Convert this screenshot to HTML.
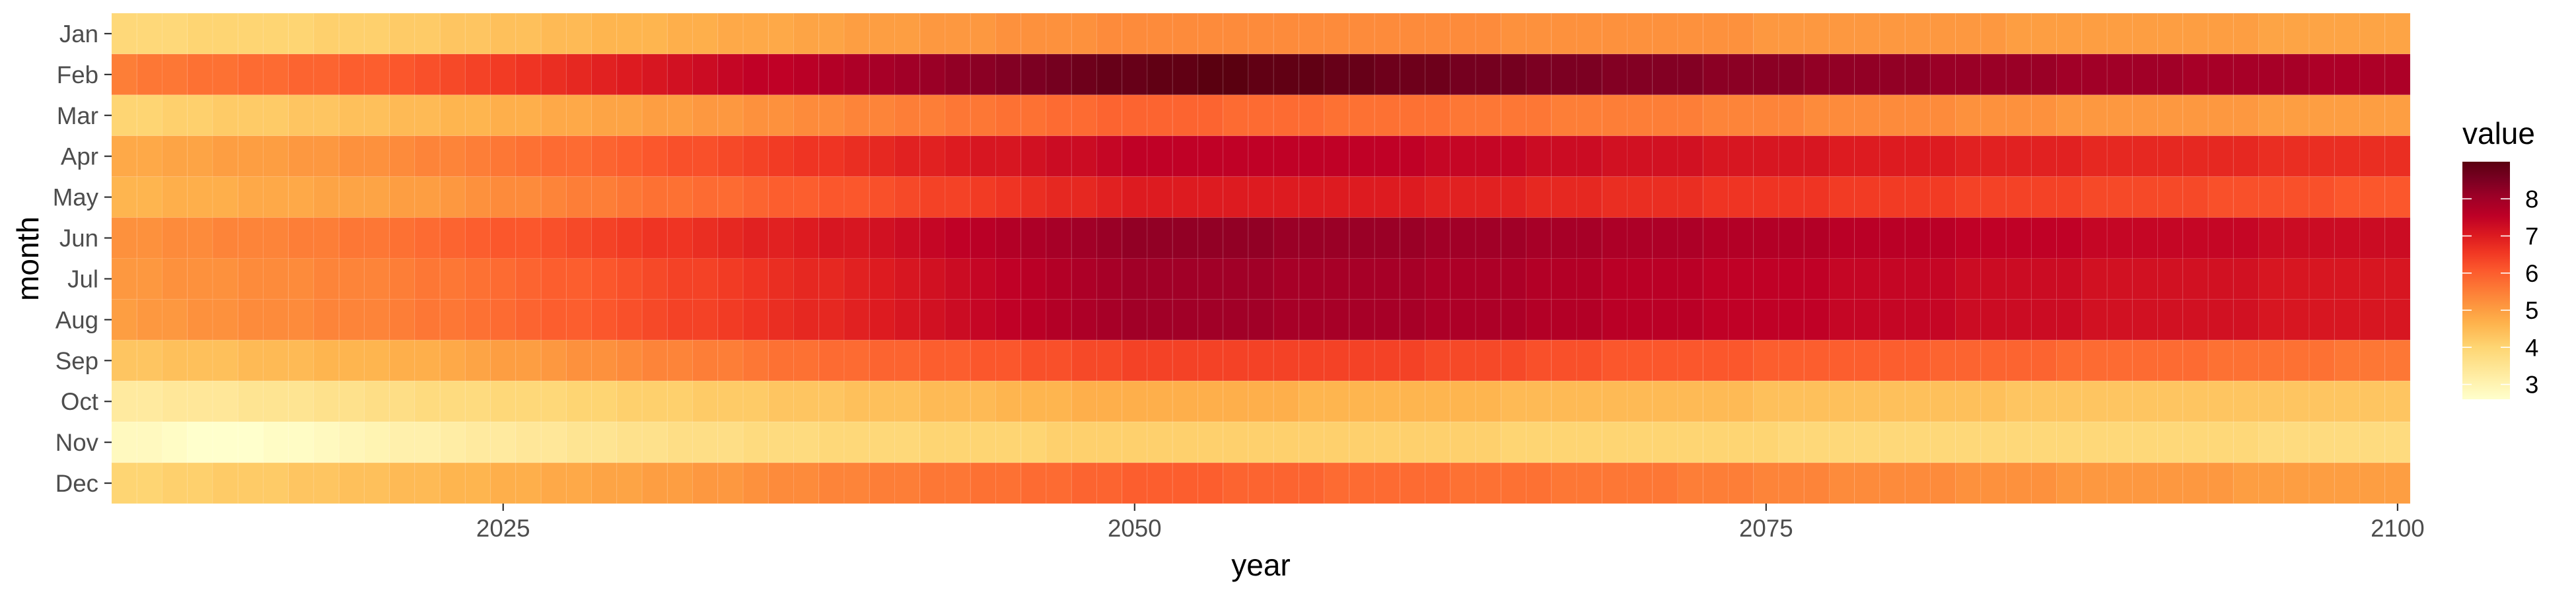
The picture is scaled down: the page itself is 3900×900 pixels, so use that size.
<!DOCTYPE html>
<html><head><meta charset="utf-8"><style>
html,body{margin:0;padding:0;background:#fff;}
svg{display:block;font-family:"Liberation Sans",Arial,sans-serif;}
</style></head><body>
<svg id="chart" width="3900" height="900" viewBox="0 0 3900 900" xmlns="http://www.w3.org/2000/svg">
<defs>
<linearGradient id="lg" x1="0" y1="1" x2="0" y2="0"></linearGradient>
</defs>
<g id="tiles"></g>
<g id="yaxis"></g>
<g id="xaxis"></g>
<text x="0" y="0" transform="translate(58,392) rotate(-90)" text-anchor="middle" font-size="46" fill="#000">month</text>
<text x="1909" y="872" text-anchor="middle" font-size="46" fill="#000">year</text>
<g id="legend">
<text x="3728" y="218" font-size="46" fill="#000">value</text>
<rect x="3728" y="245" width="72" height="360" fill="url(#lg)"></rect>
</g>
</svg>
<script>
const months = ["Jan","Feb","Mar","Apr","May","Jun","Jul","Aug","Sep","Oct","Nov","Dec"];
const yearStart = 2010;
const xTicks = [2025, 2050, 2075, 2100];
const legendTicks = [3, 4, 5, 6, 7, 8];
const jan = [3.9,3.9,3.9,4.0,4.0,4.0,4.0,4.0,4.1,4.1, 4.1,4.2,4.2,4.3,4.3,4.4,4.4,4.5,4.5,4.6, 4.6,4.6,4.7,4.7,4.8,4.8,4.8,4.9,4.9,5.0, 5.0,5.0,5.1,5.1,5.1,5.2,5.2,5.2,5.2,5.3, 5.3,5.3,5.3,5.3,5.3,5.3,5.3,5.3,5.3,5.3, 5.3,5.3,5.3,5.3,5.3,5.2,5.2,5.2,5.2,5.2, 5.2,5.2,5.2,5.2,5.2,5.1,5.1,5.1,5.1,5.1, 5.1,5.1,5.1,5.1,5.1,5.0,5.0,5.0,5.0,5.0, 5.0,5.0,5.0,5.0,5.0,4.9,4.9,4.9,4.9,4.9, 4.9];
const feb = [5.5,5.6,5.6,5.7,5.7,5.8,5.8,5.9,5.9,6.0, 6.0,6.1,6.2,6.3,6.4,6.5,6.6,6.7,6.8,6.9, 7.0,7.1,7.2,7.3,7.4,7.5,7.5,7.6,7.7,7.8, 7.9,8.0,8.1,8.2,8.3,8.4,8.5,8.6,8.7,8.8, 8.8,8.9,8.9,9.0,9.0,8.9,8.9,8.9,8.8,8.8, 8.7,8.7,8.7,8.6,8.6,8.6,8.5,8.5,8.5,8.4, 8.4,8.4,8.4,8.3,8.3,8.3,8.3,8.2,8.2,8.2, 8.2,8.2,8.1,8.1,8.1,8.1,8.1,8.0,8.0,8.0, 8.0,8.0,7.9,7.9,7.9,7.9,7.9,7.8,7.8,7.8, 7.8];
const mar = [4.0,4.0,4.1,4.1,4.2,4.2,4.2,4.3,4.3,4.4, 4.4,4.5,4.5,4.6,4.6,4.7,4.7,4.8,4.8,4.9, 4.9,5.0,5.0,5.1,5.1,5.2,5.2,5.3,5.3,5.4, 5.4,5.5,5.5,5.6,5.6,5.7,5.7,5.8,5.8,5.9, 5.9,5.9,5.9,5.9,5.8,5.8,5.8,5.8,5.7,5.7, 5.7,5.7,5.7,5.6,5.6,5.6,5.6,5.5,5.5,5.5, 5.5,5.5,5.5,5.4,5.4,5.4,5.4,5.3,5.3,5.3, 5.3,5.3,5.3,5.2,5.2,5.2,5.2,5.1,5.1,5.1, 5.1,5.1,5.1,5.1,5.1,5.0,5.0,5.0,5.0,5.0, 5.0];
const apr = [4.8,4.8,4.9,4.9,5.0,5.0,5.0,5.1,5.1,5.2, 5.2,5.3,5.4,5.4,5.5,5.6,5.7,5.8,5.8,5.9, 6.0,6.1,6.2,6.2,6.3,6.4,6.5,6.6,6.6,6.7, 6.8,6.9,6.9,7.0,7.1,7.1,7.2,7.3,7.3,7.4, 7.5,7.5,7.5,7.5,7.5,7.5,7.5,7.5,7.5,7.5, 7.5,7.5,7.4,7.4,7.4,7.4,7.3,7.3,7.3,7.2, 7.2,7.2,7.2,7.1,7.1,7.1,7.1,7.1,7.0,7.0, 7.0,7.0,7.0,6.9,6.9,6.9,6.9,6.9,6.8,6.8, 6.8,6.8,6.8,6.8,6.8,6.7,6.7,6.7,6.7,6.7, 6.7];
const may = [4.6,4.6,4.7,4.7,4.7,4.8,4.8,4.8,4.9,4.9, 4.9,5.0,5.0,5.1,5.2,5.3,5.3,5.4,5.5,5.5, 5.6,5.7,5.7,5.8,5.8,5.9,6.0,6.0,6.1,6.1, 6.2,6.3,6.4,6.4,6.5,6.6,6.7,6.8,6.8,6.9, 7.0,7.0,7.0,7.0,7.0,7.0,7.0,7.0,7.0,7.0, 7.0,7.0,6.9,6.9,6.9,6.9,6.8,6.8,6.8,6.7, 6.7,6.7,6.7,6.6,6.6,6.6,6.6,6.6,6.5,6.5, 6.5,6.5,6.5,6.4,6.4,6.4,6.4,6.4,6.3,6.3, 6.3,6.3,6.3,6.2,6.2,6.2,6.2,6.2,6.1,6.1, 6.1];
const jun = [5.2,5.2,5.3,5.3,5.4,5.4,5.4,5.5,5.5,5.6, 5.6,5.7,5.8,5.9,6.0,6.1,6.1,6.2,6.3,6.4, 6.5,6.6,6.6,6.7,6.8,6.9,6.9,7.0,7.1,7.1, 7.2,7.3,7.4,7.5,7.6,7.7,7.8,7.9,8.0,8.1, 8.2,8.2,8.2,8.2,8.2,8.2,8.1,8.1,8.1,8.1, 8.1,8.1,8.0,8.0,8.0,8.0,7.9,7.9,7.9,7.8, 7.8,7.8,7.8,7.7,7.7,7.7,7.7,7.7,7.6,7.6, 7.6,7.6,7.6,7.5,7.5,7.5,7.5,7.5,7.4,7.4, 7.4,7.4,7.4,7.4,7.4,7.3,7.3,7.3,7.3,7.3, 7.3];
const jul = [5.1,5.1,5.2,5.2,5.2,5.3,5.3,5.3,5.4,5.4, 5.4,5.5,5.6,5.6,5.7,5.8,5.9,6.0,6.0,6.1, 6.2,6.3,6.4,6.4,6.5,6.6,6.7,6.8,6.8,6.9, 7.0,7.1,7.2,7.3,7.4,7.5,7.6,7.7,7.8,7.9, 8.0,8.0,8.0,8.0,8.0,8.0,7.9,7.9,7.9,7.9, 7.9,7.9,7.8,7.8,7.8,7.8,7.7,7.7,7.7,7.6, 7.6,7.6,7.6,7.5,7.5,7.5,7.5,7.5,7.4,7.4, 7.4,7.4,7.4,7.3,7.3,7.3,7.3,7.3,7.2,7.2, 7.2,7.2,7.2,7.2,7.2,7.1,7.1,7.1,7.1,7.1, 7.1];
const aug = [5.0,5.1,5.1,5.2,5.2,5.3,5.3,5.3,5.4,5.4, 5.4,5.5,5.6,5.6,5.7,5.8,5.9,6.0,6.0,6.1, 6.2,6.3,6.4,6.4,6.5,6.6,6.7,6.8,6.8,6.9, 7.0,7.1,7.2,7.3,7.4,7.5,7.6,7.7,7.8,7.9, 8.0,8.0,8.0,8.0,8.0,8.0,7.9,7.9,7.9,7.9, 7.9,7.9,7.8,7.8,7.8,7.8,7.7,7.7,7.7,7.6, 7.6,7.6,7.6,7.5,7.5,7.5,7.5,7.5,7.4,7.4, 7.4,7.4,7.4,7.3,7.3,7.3,7.3,7.3,7.2,7.2, 7.2,7.2,7.2,7.2,7.2,7.1,7.1,7.1,7.1,7.1, 7.1];
const sep = [4.3,4.3,4.4,4.4,4.4,4.5,4.5,4.5,4.6,4.6, 4.6,4.7,4.7,4.8,4.9,5.0,5.0,5.1,5.2,5.2, 5.3,5.4,5.4,5.5,5.5,5.6,5.7,5.7,5.8,5.8, 5.9,5.9,6.0,6.0,6.1,6.1,6.2,6.2,6.3,6.3, 6.4,6.4,6.4,6.4,6.4,6.4,6.4,6.4,6.4,6.4, 6.4,6.4,6.3,6.3,6.3,6.3,6.2,6.2,6.2,6.1, 6.1,6.1,6.1,6.1,6.1,6.0,6.0,6.0,6.0,6.0, 6.0,6.0,5.9,5.9,5.9,5.9,5.9,5.8,5.8,5.8, 5.8,5.8,5.8,5.7,5.7,5.7,5.7,5.7,5.6,5.6, 5.6];
const oct = [3.3,3.3,3.4,3.4,3.4,3.5,3.5,3.5,3.6,3.6, 3.7,3.7,3.8,3.8,3.8,3.9,3.9,3.9,4.0,4.0, 4.1,4.1,4.1,4.2,4.2,4.2,4.3,4.3,4.3,4.4, 4.4,4.4,4.5,4.5,4.5,4.6,4.6,4.6,4.7,4.7, 4.7,4.7,4.7,4.7,4.7,4.7,4.7,4.6,4.6,4.6, 4.6,4.6,4.6,4.6,4.6,4.5,4.5,4.5,4.5,4.5, 4.5,4.5,4.5,4.5,4.5,4.4,4.4,4.4,4.4,4.4, 4.4,4.4,4.4,4.4,4.4,4.3,4.3,4.3,4.3,4.3, 4.3,4.3,4.3,4.3,4.3,4.3,4.3,4.3,4.3,4.3, 4.3];
const nov = [2.8,2.8,2.7,2.6,2.6,2.6,2.7,2.7,2.8,2.9, 3.0,3.1,3.1,3.2,3.3,3.3,3.4,3.4,3.5,3.5, 3.6,3.6,3.7,3.7,3.7,3.8,3.8,3.8,3.9,3.9, 3.9,3.9,4.0,4.0,4.0,4.0,4.0,4.1,4.1,4.1, 4.1,4.1,4.1,4.1,4.1,4.1,4.1,4.1,4.1,4.1, 4.1,4.1,4.1,4.1,4.1,4.0,4.0,4.0,4.0,4.0, 4.0,4.0,4.0,4.0,4.0,4.0,3.9,3.9,3.9,3.9, 3.9,3.9,3.9,3.9,3.9,3.9,3.9,3.9,3.9,3.9, 3.9,3.9,3.9,3.9,3.9,3.8,3.8,3.8,3.8,3.8, 3.8];
const dec = [4.0,4.0,4.1,4.1,4.2,4.2,4.2,4.3,4.3,4.4, 4.4,4.5,4.5,4.6,4.6,4.7,4.7,4.8,4.8,4.9, 4.9,5.0,5.0,5.1,5.1,5.2,5.3,5.3,5.4,5.4, 5.5,5.5,5.6,5.6,5.7,5.7,5.8,5.8,5.9,5.9, 6.0,6.0,6.0,6.0,5.9,5.9,5.9,5.9,5.8,5.8, 5.8,5.8,5.8,5.7,5.7,5.7,5.7,5.6,5.6,5.6, 5.6,5.6,5.5,5.5,5.5,5.4,5.4,5.4,5.3,5.3, 5.3,5.3,5.3,5.2,5.2,5.2,5.2,5.1,5.1,5.1, 5.1,5.1,5.1,5.1,5.0,5.0,5.0,5.0,5.0,5.0, 5.0];
const series = [jan,feb,mar,apr,may,jun,jul,aug,sep,oct,nov,dec];

const NS = "http://www.w3.org/2000/svg";
const PL = 169, PR = 3649, PT = 20, PB = 763;
const nYears = jan.length;
const xMin = yearStart - 0.5, xMax = yearStart + nYears - 0.5;
function xScale(v){ return PL + (v - xMin) / (xMax - xMin) * (PR - PL); }
const rowH = (PB - PT) / months.length;
function yScale(i){ return PT + i * rowH; }

let vmin = Infinity, vmax = -Infinity;
series.forEach(s => s.forEach(v => { if (v < vmin) vmin = v; if (v > vmax) vmax = v; }));

const stopsT = [0, 0.06, 0.22, 0.32, 0.38, 0.46, 0.54, 0.62, 0.69, 0.77, 0.85, 0.93, 1];
const stopsC = ["#FFFFCC","#FFF4B3","#FED572","#FEB24C","#FD9C41","#FD7B36","#FC5A2D","#F03623","#DC1A20","#BE0026","#9E0027","#780021","#5A0010"];
function hex2rgb(h){ return [parseInt(h.slice(1,3),16),parseInt(h.slice(3,5),16),parseInt(h.slice(5,7),16)]; }
function color(v){
  let t = (v - vmin) / (vmax - vmin); t = Math.max(0, Math.min(1, t));
  for (let i = 0; i < stopsT.length - 1; i++){
    if (t <= stopsT[i+1]){
      const f = (t - stopsT[i]) / (stopsT[i+1] - stopsT[i]);
      const a = hex2rgb(stopsC[i]), b = hex2rgb(stopsC[i+1]);
      return "rgb(" + a.map((c,k)=>Math.round(c + (b[k]-c)*f)).join(",") + ")";
    }
  }
  return stopsC[stopsC.length-1];
}

const tiles = document.getElementById("tiles");
series.forEach((s, mi) => {
  s.forEach((v, yi) => {
    const yr = yearStart + yi;
    const r = document.createElementNS(NS, "rect");
    
    
    const x0 = xScale(yr - 0.5), x1 = xScale(yr + 0.5);
    r.setAttribute("x", x0); r.setAttribute("y", yScale(mi));
    r.setAttribute("width", x1 - x0); r.setAttribute("height", rowH);
    r.setAttribute("fill", color(v));
    r.setAttribute("stroke", "rgba(255,255,255,0.1)");
    r.setAttribute("stroke-width", "1");
    tiles.appendChild(r);
  });
});

const yaxis = document.getElementById("yaxis");
months.forEach((m, i) => {
  const cy = yScale(i) + rowH / 2;
  const tk = document.createElementNS(NS, "line");
  
  
  tk.setAttribute("x1", PL - 11); tk.setAttribute("x2", PL); tk.setAttribute("y1", cy); tk.setAttribute("y2", cy);
  tk.setAttribute("stroke", "#333"); tk.setAttribute("stroke-width", "2.2");
  yaxis.appendChild(tk);
  const t = document.createElementNS(NS, "text");
  
  
  t.setAttribute("x", PL - 20); t.setAttribute("y", cy + 13);
  t.setAttribute("text-anchor", "end"); t.setAttribute("font-size", "36.7"); t.setAttribute("fill", "#4D4D4D");
  t.textContent = m;
  yaxis.appendChild(t);
});

const xaxis = document.getElementById("xaxis");
xTicks.forEach(v => {
  const x = xScale(v);
  const tk = document.createElementNS(NS, "line");
  
  
  tk.setAttribute("x1", x); tk.setAttribute("x2", x); tk.setAttribute("y1", PB); tk.setAttribute("y2", PB + 11);
  tk.setAttribute("stroke", "#333"); tk.setAttribute("stroke-width", "2.2");
  xaxis.appendChild(tk);
  const t = document.createElementNS(NS, "text");
  
  
  t.setAttribute("x", x); t.setAttribute("y", PB + 50);
  t.setAttribute("text-anchor", "middle"); t.setAttribute("font-size", "36.7"); t.setAttribute("fill", "#4D4D4D");
  t.textContent = v;
  xaxis.appendChild(t);
});

const lg = document.getElementById("lg");
stopsT.forEach((s, i) => {
  const st = document.createElementNS(NS, "stop");
  st.setAttribute("offset", s); st.setAttribute("stop-color", stopsC[i]);
  lg.appendChild(st);
});
const legend = document.getElementById("legend");
const LB = 605, LT = 245;
function legY(v){ return LB - (v - vmin) / (vmax - vmin) * (LB - LT); }
legendTicks.forEach(v => {
  const y = legY(v);
  [[3728, 3742], [3786, 3800]].forEach(([a, b], k) => {
    const l = document.createElementNS(NS, "line");
    
    
    l.setAttribute("x1", a); l.setAttribute("x2", b); l.setAttribute("y1", y); l.setAttribute("y2", y);
    l.setAttribute("stroke", "#fff"); l.setAttribute("stroke-width", "1.6");
    legend.appendChild(l);
  });
  const t = document.createElementNS(NS, "text");
  
  
  t.setAttribute("x", 3823); t.setAttribute("y", y + 13);
  t.setAttribute("font-size", "36.7"); t.setAttribute("fill", "#000");
  t.textContent = v;
  legend.appendChild(t);
});
</script>
</body></html>
